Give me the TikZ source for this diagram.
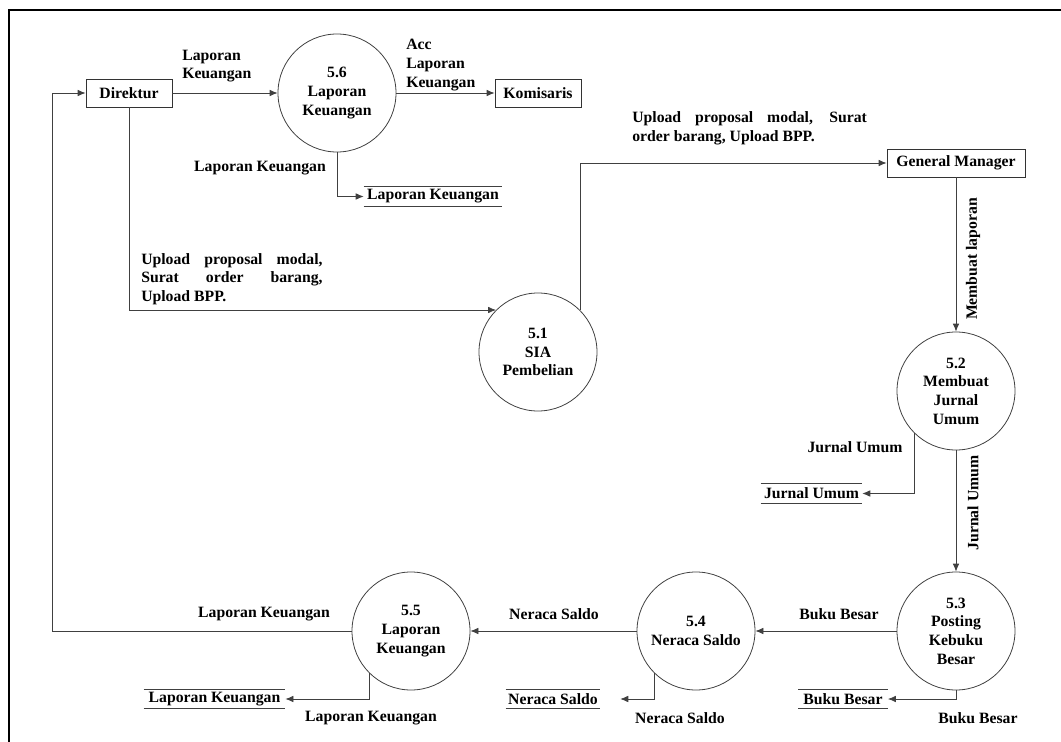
\documentclass[tikz,border=0pt]{standalone}
\usepackage{fontspec}
\setmainfont{Liberation Serif}
\usetikzlibrary{arrows.meta,positioning,calc}

\begin{document}
\begin{tikzpicture}[x=0.75pt,y=-0.75pt,
        font=\fontsize{11.8}{14}\selectfont\bfseries,
        process/.style={circle,draw=black!75,line width=0.6pt,minimum size=88.5pt,inner sep=0pt,align=center},
        entity/.style={rectangle,draw=black!80,line width=0.6pt,minimum height=21pt,inner sep=2pt},
        store/.style={inner xsep=1pt,inner ysep=0pt,minimum height=14.25pt},
        flow/.style={-{Latex[length=6pt,width=5pt]},draw=black!75,line width=0.6pt},
        lbl/.style={inner sep=0pt,align=left}]

        \useasboundingbox (0,0) rectangle (1061,742);

        % Frame
        \draw[line width=1.2pt] (1061,10) -- (9,10) -- (9,742);

        % Entities
        \node[entity,minimum width=64.5pt] (direktur) at (129,93) {Direktur};
        \node[entity,minimum width=64.5pt] (komisaris) at (538,93) {Komisaris};
        \node[entity,minimum width=103.5pt] (gm) at (956,163) {General Manager};

        % Processes
        \node[process] (p56) at (337,93) {5.6\\Laporan\\Keuangan};
        \node[process] (p51) at (538,352) {5.1\\SIA\\Pembelian};
        \node[process] (p52) at (956,391) {5.2\\Membuat\\Jurnal\\Umum};
        \node[process] (p53) at (956,631) {5.3\\Posting\\Kebuku\\Besar};
        \node[process] (p54) at (696,631) {5.4\\Neraca Saldo};
        \node[process] (p55) at (411,631) {5.5\\Laporan\\Keuangan};

        % Data stores
        \node[store,minimum width=103.5pt] (dsLK1) at (433,196.5) {Laporan Keuangan};
        \node[store,minimum width=75.75pt] (dsJU) at (811.5,493.5) {Jurnal Umum};
        \node[store,minimum width=70.5pt] (dsNS) at (553,699) {Neraca Saldo};
        \node[store,minimum width=67pt] (dsBB) at (843,699) {Buku Besar};
        \node[store,minimum width=106pt] (dsLK2) at (214.5,699) {Laporan Keuangan};
        \foreach \s in {dsLK1,dsJU,dsNS,dsBB,dsLK2}
            \draw[black!75,line width=0.8pt] (\s.north west) -- (\s.north east)
                (\s.south west) -- (\s.south east);

        % Flows
        \coordinate (ret) at (52,93);
        \draw[flow] (direktur) -- (p56);
        \draw[flow] (p56) -- (komisaris);
        \draw[flow] (p56.south) |- (dsLK1.west);
        \draw[flow] (direktur.south) |- (p51.135);
        \draw[flow] (p51.45) |- (gm.west);
        \draw[flow] (gm) -- (p52);
        \draw[flow] (p52.225) |- (dsJU.east);
        \draw[flow] (p52) -- (p53);
        \draw[flow] (p53) -- (p54);
        \draw[flow] (p53.south) |- (dsBB.east);
        \draw[flow] (p54) -- (p55);
        \draw[flow] (p54.225) |- ([xshift=15pt]dsNS.east);
        \draw[flow] (p55.225) |- (dsLK2.east);
        \draw[flow] (p55.west) -| (ret) -- (direktur.west);

        % Labels
        \node[lbl,anchor=west] (lDirLK) at (182,66) {Laporan\\Keuangan};
        \node[lbl,anchor=west] (lAcc) at (406,65) {Acc\\Laporan\\Keuangan};
        \node[lbl] (l56LK) at (260,168) {Laporan Keuangan};
        \node[lbl,anchor=west] (lUpload1) at (141,279)
            {\makebox[136pt][s]{Upload proposal modal,}\\\makebox[136pt][s]{Surat order barang,}\\Upload BPP.};
        \node[lbl,anchor=west] (lUpload2) at (632,128)
            {\makebox[176pt][s]{Upload proposal modal, Surat}\\order barang, Upload BPP.};
        \node[lbl,rotate=90] (lMembuat) at (973,259) {Membuat laporan};
        \node[lbl] (lJU1) at (855,447) {Jurnal Umum};
        \node[lbl,rotate=90] (lJU2) at (973,503) {Jurnal Umum};
        \node[lbl] (lBB1) at (839,614) {Buku Besar};
        \node[lbl] (lNS1) at (554,614) {Neraca Saldo};
        \node[lbl] (lLK1) at (264,614) {Laporan Keuangan};
        \node[lbl] (lLK2) at (371,718) {Laporan Keuangan};
        \node[lbl] (lNS2) at (680,718) {Neraca Saldo};
        \node[lbl] (lBB2) at (978,718) {Buku Besar};
\end{tikzpicture}
\end{document}
